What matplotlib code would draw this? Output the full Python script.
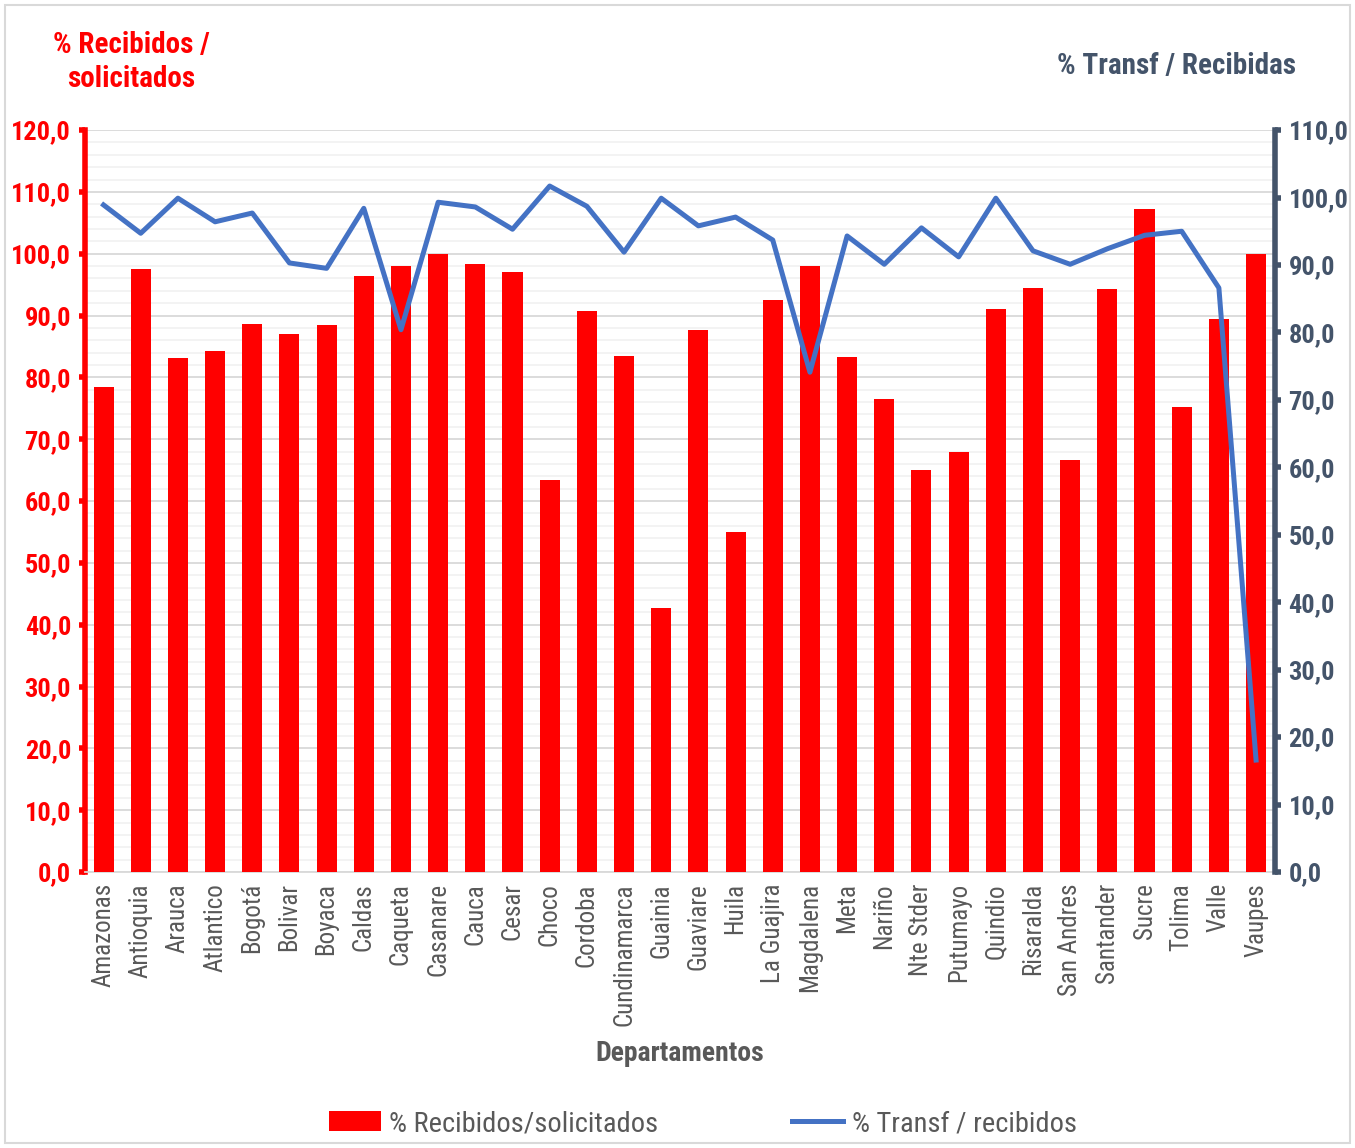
import matplotlib.pyplot as plt
from matplotlib.ticker import MultipleLocator, FuncFormatter
from matplotlib.patches import Rectangle
from matplotlib import font_manager

# Datos
departamentos = ['Amazonas', 'Antioquia', 'Arauca', 'Atlantico', 'Bogotá', 'Bolivar', 'Boyaca',
                 'Caldas', 'Caqueta', 'Casanare', 'Cauca', 'Cesar', 'Choco', 'Cordoba',
                 'Cundinamarca', 'Guainia', 'Guaviare', 'Huila', 'La Guajira', 'Magdalena',
                 'Meta', 'Nariño', 'Nte Stder', 'Putumayo', 'Quindio', 'Risaralda',
                 'San Andres', 'Santander', 'Sucre', 'Tolima', 'Valle', 'Vaupes']
recibidos_solicitados = [78.4, 97.5, 83.1, 84.3, 88.6, 87.0, 88.5, 96.4, 98.0, 100.0, 98.3,
                         97.0, 63.4, 90.7, 83.5, 42.7, 87.7, 55.0, 92.5, 98.0, 83.3, 76.5,
                         65.0, 67.9, 91.1, 94.5, 66.6, 94.3, 107.2, 75.2, 89.4, 100.0]
transf_recibidos = [98.9, 94.7, 99.9, 96.4, 97.7, 90.3, 89.5, 98.4, 80.4, 99.3, 98.6, 95.3,
                    101.7, 98.7, 91.9, 99.9, 95.8, 97.1, 93.7, 74.1, 94.3, 90.1, 95.5, 91.2,
                    99.9, 92.1, 90.1, 92.4, 94.4, 95.0, 86.6, 16.6]

# fuente estrecha si existe
nombres = {f.name for f in font_manager.fontManager.ttflist}
fuente = 'DejaVu Sans'
for cand in ['Roboto Condensed', 'Liberation Sans Narrow', 'Open Sans Condensed',
             'Noto Sans Condensed', 'Liberation Sans']:
    if cand in nombres:
        fuente = cand
        break
plt.rcParams['font.family'] = [fuente, 'DejaVu Sans']

ROJO = '#FF0000'
AZUL = '#4472C4'
PIZARRA = '#44546A'
GRIS = '#595959'

fig = plt.figure(figsize=(13.55, 11.48), dpi=100)
ax = fig.add_axes([0.0627, 0.2404, 0.878, 0.6463])
ax2 = ax.twinx()

x = range(len(departamentos))
barras = ax.bar(x, recibidos_solicitados, width=0.54, color=ROJO, zorder=3,
                label='% Recibidos/solicitados')
linea, = ax2.plot(x, transf_recibidos, color=AZUL, linewidth=3.6, zorder=4,
                  label='% Transf / recibidos')

ax.set_xlim(-0.5, len(departamentos) - 0.5)
ax.set_ylim(0, 120)
ax2.set_ylim(0, 110)
ax.yaxis.set_major_locator(MultipleLocator(10))
ax.yaxis.set_minor_locator(MultipleLocator(2))
ax2.yaxis.set_major_locator(MultipleLocator(10))
fmt = FuncFormatter(lambda v, p: f'{v:.1f}'.replace('.', ','))
ax.yaxis.set_major_formatter(fmt)
ax2.yaxis.set_major_formatter(fmt)

ax.grid(which='major', axis='y', color='#D9D9D9', linewidth=1.3, zorder=0)
ax.grid(which='minor', axis='y', color='#F2F2F2', linewidth=1.3, zorder=0)
ax.set_axisbelow(True)

ax.spines['top'].set_visible(False)
ax2.spines['top'].set_visible(False)
ax.spines['right'].set_visible(False)
ax.spines['left'].set_color(ROJO)
ax.spines['left'].set_linewidth(4)
ax.spines['bottom'].set_color('#D9D9D9')
ax.spines['bottom'].set_linewidth(1.3)
ax2.spines['left'].set_visible(False)
ax2.spines['bottom'].set_visible(False)
ax2.spines['right'].set_color(PIZARRA)
ax2.spines['right'].set_linewidth(4)

ax.tick_params(axis='y', which='major', colors=ROJO, length=4, width=4, labelsize=19, pad=6)
ax.tick_params(axis='y', which='minor', length=0)
for t in ax.get_yticklabels():
    t.set_fontweight('bold')
ax2.tick_params(axis='y', colors=PIZARRA, length=4, width=4, labelsize=19, pad=6)
for t in ax2.get_yticklabels():
    t.set_fontweight('bold')

ax.set_xticks(list(x))
ax.set_xticklabels(departamentos, rotation=90, fontsize=18, color=GRIS)
ax.tick_params(axis='x', length=0, pad=8)
ax.set_xlabel('Departamentos', fontsize=20, fontweight='bold', color=GRIS, labelpad=10)

fig.text(0.097, 0.946, '% Recibidos /\nsolicitados', color=ROJO, fontsize=21,
         fontweight='bold', ha='center', va='center', linespacing=1.3)
fig.text(0.868, 0.9425, '% Transf / Recibidas', color=PIZARRA, fontsize=21,
         fontweight='bold', ha='center', va='center')

fig.legend([barras, linea], ['% Recibidos/solicitados', '% Transf / recibidos'],
           loc='center', bbox_to_anchor=(0.519, 0.021), ncol=2, frameon=False,
           fontsize=20.5, labelcolor=GRIS, columnspacing=4.7, handlelength=1.8,
           handletextpad=0.3)

fig.patches.append(Rectangle((0.004, 0.004), 0.992, 0.992, transform=fig.transFigure,
                             fill=False, edgecolor='#D9D9D9', linewidth=1.5))

fig.savefig('out.png', dpi=100, facecolor='white')
